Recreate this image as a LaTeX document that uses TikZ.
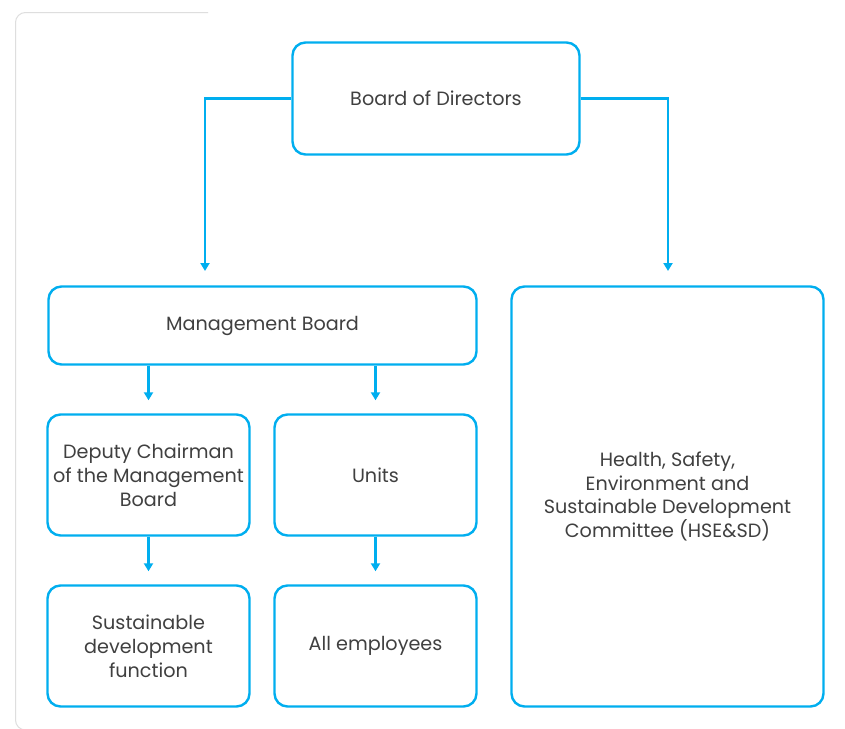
\documentclass[tikz,border=0pt]{standalone}
\usepackage{fontspec}
\setmainfont{Poppins}
\usetikzlibrary{arrows.meta}
\definecolor{bl}{RGB}{0,174,239}
\definecolor{tx}{RGB}{64,64,64}
\definecolor{fr}{RGB}{222,222,222}
\begin{document}
\begin{tikzpicture}[x=1pt,y=-1pt,
  box/.style={draw=bl, line width=2.4pt, rounded corners=13pt, align=center, text=tx,
    font=\fontsize{19.2}{23.8}\selectfont, inner sep=0pt},
  conn/.style={draw=bl, line width=2.4pt, -{Triangle[width=9pt,length=8pt]}}]
\useasboundingbox (0,0) rectangle (845,728);
\clip (0,0) rectangle (845,728);
\fill[white] (0,0) rectangle (845,728);
\draw[fr, line width=1pt, rounded corners=10pt] (208,12.5) -- (15.5,12.5) -- (15.5,730) -- (60,730);
\node[box, minimum width=287pt, minimum height=112pt] (bod) at (436,98.5) {Board of Directors};
\node[box, minimum width=428pt, minimum height=78pt] (mb) at (262.5,325.5) {Management Board};
\node[box, minimum width=202pt, minimum height=121pt] (dep) at (148.5,475) {Deputy Chairman\\of the Management\\Board};
\node[box, minimum width=202pt, minimum height=121pt] (units) at (375.5,475) {Units};
\node[box, minimum width=202pt, minimum height=121pt] (sus) at (148.5,646) {Sustainable\\development\\function};
\node[box, minimum width=202pt, minimum height=121pt] (all) at (375.5,646) {All employees};
\node[box, minimum width=312pt, minimum height=420pt] (hse) at (667.5,496.5) {Health, Safety,\\Environment and\\Sustainable Development\\Committee (HSE\&SD)};
\coordinate (t1) at (205,271);
\coordinate (t2) at (668,271);
\draw[conn] (bod.west) -| (t1);
\draw[conn] (bod.east) -| (t2);
\draw[conn] (mb.south -| dep.north) -- ([yshift=13pt]dep.north);
\draw[conn] (mb.south -| units.north) -- ([yshift=13pt]units.north);
\draw[conn] (dep.south) -- ([yshift=13pt]sus.north);
\draw[conn] (units.south) -- ([yshift=13pt]all.north);
\end{tikzpicture}
\end{document}
